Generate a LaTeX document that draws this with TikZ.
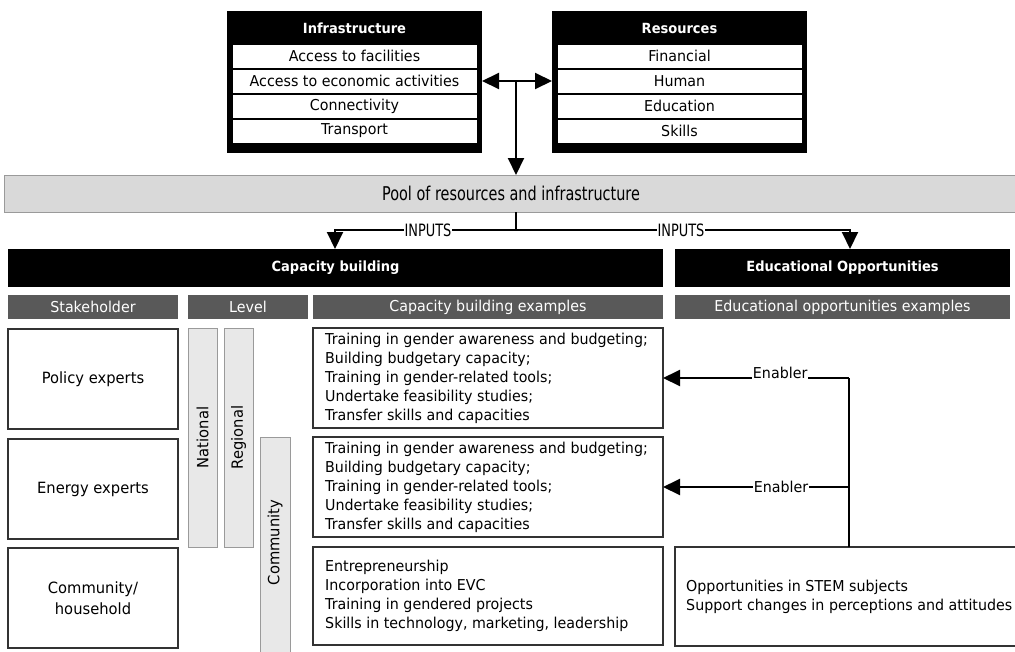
\documentclass[tikz,border=0pt]{standalone}
\usepackage{fontspec}
\setmainfont{DejaVu Sans}[FakeStretch=0.95]
\newfontfamily\boldhead{DejaVu Sans Bold}[FakeStretch=0.93]
\newfontfamily\condfont{DejaVu Sans}[FakeStretch=0.76]
\usetikzlibrary{arrows.meta}
\definecolor{hdrgray}{HTML}{595959}
\definecolor{poolgray}{HTML}{D9D9D9}
\definecolor{levelgray}{HTML}{E8E8E8}
\definecolor{bordergray}{HTML}{9A9A9A}
\definecolor{boxline}{HTML}{333333}
\tikzset{
  base/.style={rectangle, anchor=north west, inner sep=0pt, outer sep=0pt},
  blackbox/.style={base, fill=black},
  rowbox/.style={base, fill=white, draw=black, line width=0.8pt, font=\fontsize{15}{18}\selectfont},
  whitehead/.style={text=white, font=\boldhead\fontsize{14}{16}\selectfont},
  bighead/.style={base, fill=black, text=white, font=\boldhead\fontsize{14}{16}\selectfont},
  grayhead/.style={base, fill=hdrgray, text=white, font=\fontsize{15}{18}\selectfont},
  stake/.style={base, draw=boxline, line width=1.2pt, align=center, font=\fontsize{15.5}{21}\selectfont},
  levelbar/.style={base, fill=levelgray, draw=bordergray, line width=1pt},
  leveltxt/.style={rotate=90, font=\fontsize{15.5}{18}\selectfont},
  exbox/.style={base, draw=boxline, line width=1.2pt},
  extxt/.style={anchor=west, align=left, inner sep=0pt, font=\fontsize{15}{19}\selectfont},
  conn/.style={line width=2pt, draw=black},
  tip/.style={-{Triangle[width=16pt,length=17pt]}},
  lab/.style={fill=white, inner sep=0.5pt, font=\condfont\fontsize{17}{19}\selectfont},
  enlab/.style={fill=white, inner sep=0.5pt, font=\fontsize{15}{18}\selectfont},
}
\begin{document}
\begin{tikzpicture}[x=1pt, y=-1pt]
\useasboundingbox (0,0) rectangle (1015,651);
\fill[white] (0,0) rectangle (1015,651);

% Infrastructure
\node[blackbox, minimum width=255pt, minimum height=142pt] (infra) at (227,11) {};
\node[whitehead] (infraT) at (354.5,28) {Infrastructure};
\node[rowbox, minimum width=245pt, minimum height=24pt] (i1) at (232,44) {Access to facilities};
\node[rowbox, minimum width=245pt, minimum height=24pt] (i2) at (232,69) {Access to economic activities};
\node[rowbox, minimum width=245pt, minimum height=24pt] (i3) at (232,94) {Connectivity};
\node[rowbox, minimum width=245pt, minimum height=24pt] (i4) at (232,119) {Transport};

% Resources
\node[blackbox, minimum width=255pt, minimum height=142pt] (res) at (552,11) {};
\node[whitehead] (resT) at (679.5,28) {Resources};
\node[rowbox, minimum width=245pt, minimum height=24pt] (r1) at (557,44) {Financial};
\node[rowbox, minimum width=245pt, minimum height=24pt] (r2) at (557,69) {Human};
\node[rowbox, minimum width=245pt, minimum height=24pt] (r3) at (557,94) {Education};
\node[rowbox, minimum width=245pt, minimum height=24pt] (r4) at (557,119) {Skills};

% Pool
\node[base, fill=poolgray, draw=bordergray, line width=1pt, minimum width=1014pt, minimum height=37pt,
      font=\condfont\fontsize{19}{21}\selectfont] (pool) at (4,175) {Pool of resources and infrastructure};

% top arrows
\coordinate (jt) at (516,81);
\draw[conn, {Triangle[width=16pt,length=17pt]}-{Triangle[width=16pt,length=17pt]}] (infra.east |- jt) -- (res.west |- jt);
\draw[conn, tip] (jt) -- (jt |- pool.north);

% Capacity / Educational bars
\node[bighead, minimum width=655pt, minimum height=38pt] (cap) at (8,249) {Capacity building};
\node[bighead, minimum width=335pt, minimum height=38pt] (edu) at (675,249) {Educational Opportunities};

% INPUTS
\coordinate (split) at (516,230);
\coordinate (ltip) at (335,249);
\coordinate (rtip) at (850,249);
\draw[conn] (split |- pool.south) -- (split);
\draw[conn, tip] (split) -- node[lab, pos=0.486] {INPUTS} (split -| ltip) -- (ltip);
\draw[conn, tip] (split) -- node[lab, pos=0.494] {INPUTS} (split -| rtip) -- (rtip);

% gray headers
\node[grayhead, minimum width=170pt, minimum height=24pt] (hs) at (8,295) {Stakeholder};
\node[grayhead, minimum width=120pt, minimum height=24pt] (hl) at (188,295) {Level};
\node[grayhead, minimum width=350pt, minimum height=24pt] (hc) at (313,295) {Capacity building examples};
\node[grayhead, minimum width=335pt, minimum height=24pt] (he) at (675,295) {Educational opportunities examples};

% stakeholders
\node[stake, minimum width=170pt, minimum height=100pt] (s1) at (8,329) {Policy experts};
\node[stake, minimum width=170pt, minimum height=100pt] (s2) at (8,439) {Energy experts};
\node[stake, minimum width=170pt, minimum height=100pt] (s3) at (8,548) {Community/\\household};

% levels
\node[levelbar, minimum width=29pt, minimum height=219pt] (nat) at (188,328) {};
\node[leveltxt] at (nat.center) {National};
\node[levelbar, minimum width=29pt, minimum height=219pt] (reg) at (224,328) {};
\node[leveltxt] at (reg.center) {Regional};
\node[levelbar, minimum width=30pt, minimum height=217pt] (com) at (260,437) {};
\node[leveltxt] at ([yshift=3pt]com.center) {Community};

% capacity examples
\node[exbox, minimum width=350pt, minimum height=100pt] (c1) at (313,328) {};
\node[extxt] at ([xshift=12pt]c1.west) {Training in gender awareness and budgeting;\\Building budgetary capacity;\\Training in gender-related tools;\\Undertake feasibility studies;\\Transfer skills and capacities};
\node[exbox, minimum width=350pt, minimum height=100pt] (c2) at (313,437) {};
\node[extxt] at ([xshift=12pt]c2.west) {Training in gender awareness and budgeting;\\Building budgetary capacity;\\Training in gender-related tools;\\Undertake feasibility studies;\\Transfer skills and capacities};
\node[exbox, minimum width=350pt, minimum height=98pt] (c3) at (313,547) {};
\node[extxt] at ([xshift=12pt]c3.west) {Entrepreneurship\\Incorporation into EVC\\Training in gendered projects\\Skills in technology, marketing, leadership};

% educational examples
\node[exbox, minimum width=345pt, minimum height=99pt] (e1) at (675,547) {};
\node[extxt] at ([xshift=11pt]e1.west) {Opportunities in STEM subjects\\Support changes in perceptions and attitudes};

% Enablers
\coordinate (ex) at (849,0);
\draw[conn] (ex |- e1.north) -- (ex |- c1.east);
\draw[conn, tip] (ex |- c1.east) -- node[enlab, pos=0.37, yshift=5pt] {Enabler} (c1.east);
\draw[conn, tip] (ex |- c2.east) -- node[enlab, pos=0.365] {Enabler} (c2.east);
\end{tikzpicture}
\end{document}
